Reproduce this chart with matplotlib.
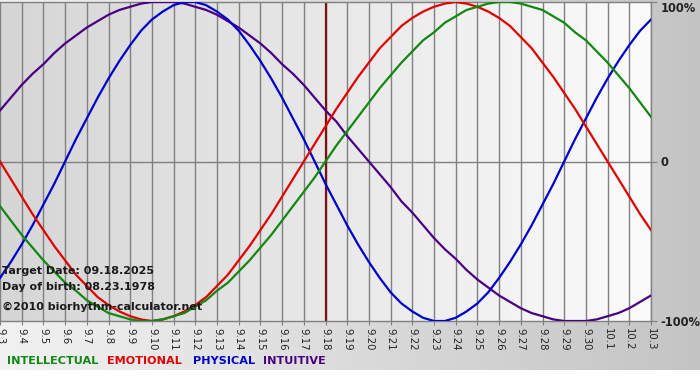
import numpy as np
import matplotlib
matplotlib.use("Agg")
import matplotlib.pyplot as plt
from matplotlib.colors import LinearSegmentedColormap

# days shown on the chart
days = ["9.3", "9.4", "9.5", "9.6", "9.7", "9.8", "9.9", "9.10", "9.11", "9.12",
        "9.13", "9.14", "9.15", "9.16", "9.17", "9.18", "9.19", "9.20", "9.21",
        "9.22", "9.23", "9.24", "9.25", "9.26", "9.27", "9.28", "9.29", "9.30",
        "10.1", "10.2", "10.3"]

# cycle values read every half day (9.3 -> 10.3)
intellectual = [-0.28, -0.37, -0.46, -0.54, -0.62, -0.69, -0.76, -0.81, -0.87, -0.91,
                -0.95, -0.97, -0.99, -1.00, -1.00, -0.99, -0.97, -0.95, -0.91, -0.87,
                -0.81, -0.76, -0.69, -0.62, -0.54, -0.46, -0.37, -0.28, -0.19, -0.10,
                0.00, 0.10, 0.19, 0.28, 0.37, 0.46, 0.54, 0.62, 0.69, 0.76,
                0.81, 0.87, 0.91, 0.95, 0.97, 0.99, 1.00, 1.00, 0.99, 0.97,
                0.95, 0.91, 0.87, 0.81, 0.76, 0.69, 0.62, 0.54, 0.46, 0.37, 0.28]
emotional = [0.00, -0.11, -0.22, -0.33, -0.43, -0.53, -0.62, -0.71, -0.78, -0.85,
             -0.90, -0.94, -0.97, -0.99, -1.00, -0.99, -0.97, -0.94, -0.90, -0.85,
             -0.78, -0.71, -0.62, -0.53, -0.43, -0.33, -0.22, -0.11, 0.00, 0.11,
             0.22, 0.33, 0.43, 0.53, 0.62, 0.71, 0.78, 0.85, 0.90, 0.94,
             0.97, 0.99, 1.00, 0.99, 0.97, 0.94, 0.90, 0.85, 0.78, 0.71,
             0.62, 0.53, 0.43, 0.33, 0.22, 0.11, 0.00, -0.11, -0.22, -0.33, -0.43]
physical = [-0.73, -0.63, -0.52, -0.40, -0.27, -0.14, 0.00, 0.14, 0.27, 0.40,
            0.52, 0.63, 0.73, 0.82, 0.89, 0.94, 0.98, 1.00, 1.00, 0.98,
            0.94, 0.89, 0.82, 0.73, 0.63, 0.52, 0.40, 0.27, 0.14, 0.00,
            -0.14, -0.27, -0.40, -0.52, -0.63, -0.73, -0.82, -0.89, -0.94, -0.98,
            -1.00, -1.00, -0.98, -0.94, -0.89, -0.82, -0.73, -0.63, -0.52, -0.40,
            -0.27, -0.14, 0.00, 0.14, 0.27, 0.40, 0.52, 0.63, 0.73, 0.82, 0.89]
intuitive = [0.32, 0.40, 0.48, 0.55, 0.61, 0.68, 0.74, 0.79, 0.84, 0.88,
             0.92, 0.95, 0.97, 0.99, 1.00, 1.00, 1.00, 0.99, 0.97, 0.95,
             0.92, 0.88, 0.84, 0.79, 0.74, 0.68, 0.61, 0.55, 0.48, 0.40,
             0.32, 0.25, 0.16, 0.08, 0.00, -0.08, -0.16, -0.25, -0.32, -0.40,
             -0.48, -0.55, -0.61, -0.68, -0.74, -0.79, -0.84, -0.88, -0.92, -0.95,
             -0.97, -0.99, -1.00, -1.00, -1.00, -0.99, -0.97, -0.95, -0.92, -0.88, -0.84]

target_day = "9.18"
info = ["Target Date: 09.18.2025", "Day of birth: 08.23.1978",
        "\u00a92010 biorhythm-calculator.net"]

series = [("INTELLECTUAL", intellectual, "#118811"),
          ("EMOTIONAL", emotional, "#e00000"),
          ("PHYSICAL", physical, "#0000cc"),
          ("INTUITIVE", intuitive, "#4b0082")]

W, H = 700, 380
fig = plt.figure(figsize=(W / 100, H / 100), dpi=100)
fig.patch.set_facecolor("white")

# outer gradient background
bg = fig.add_axes([0, 10 / H, 1, 1 - 10 / H])
bg_cmap = LinearSegmentedColormap.from_list("bg", ["#f2f2f2", "#c4c4c4"])
bg.imshow(np.linspace(0, 1, 256)[None, :], cmap=bg_cmap, aspect="auto",
          extent=[0, 1, 0, 1])
bg.axis("off")

# plot area
left, right, top, bottom = 0, 651, 2, 321
ax = fig.add_axes([left / W, 1 - bottom / H, (right - left) / W, (bottom - top) / H])
xd = np.arange(len(days))
xh = np.arange(len(physical)) / 2
plot_cmap = LinearSegmentedColormap.from_list("pl", ["#d6d6d6", "#fbfbfb"])
ax.imshow(np.linspace(0, 1, 256)[None, :], cmap=plot_cmap, aspect="auto",
          extent=[0, len(days) - 1, -1, 1], zorder=0)
ax.set_xlim(0, len(days) - 1)
ax.set_ylim(-1, 1)

for xi in xd:
    ax.axvline(xi, color="#808080", lw=1, zorder=1)
ax.axhline(0, color="#808080", lw=1, zorder=1)

ti = days.index(target_day)
ax.axvline(ti, color="#7a1212", lw=1.6, zorder=2)

for name, vals, col in [series[3], series[2], series[1], series[0]]:
    ax.plot(xh, vals, color=col, lw=1.6, zorder=3)

ax.spines["left"].set_visible(False)
for s in ["top", "bottom", "right"]:
    ax.spines[s].set_color("#808080")
    ax.spines[s].set_linewidth(1)

ax.set_xticks(xd)
ax.set_xticklabels(days, rotation=-90, fontsize=7.3, color="#222222")
ax.tick_params(axis="x", length=3, color="#808080", pad=2)
ax.yaxis.tick_right()
ax.set_yticks([-1, 0, 1])
ax.set_yticklabels(["-100%", "0", "100%"], fontsize=8.3, fontweight="bold", color="#222222")
ax.tick_params(axis="y", length=4, color="#808080", pad=3)
ax.get_yticklabels()[2].set_verticalalignment("top")

for txt, yy in zip(info, [271, 287, 307]):
    fig.text(2 / W, 1 - yy / H, txt, fontsize=8, fontweight="bold", color="#1a1a1a",
             va="center", ha="left", zorder=10)

for (name, vals, col), xx in zip(series, [7, 107, 193, 263]):
    fig.text(xx / W, 1 - 361 / H, name, fontsize=8.1, fontweight="bold", color=col,
             va="center", ha="left")

fig.savefig("out.png", dpi=100)
